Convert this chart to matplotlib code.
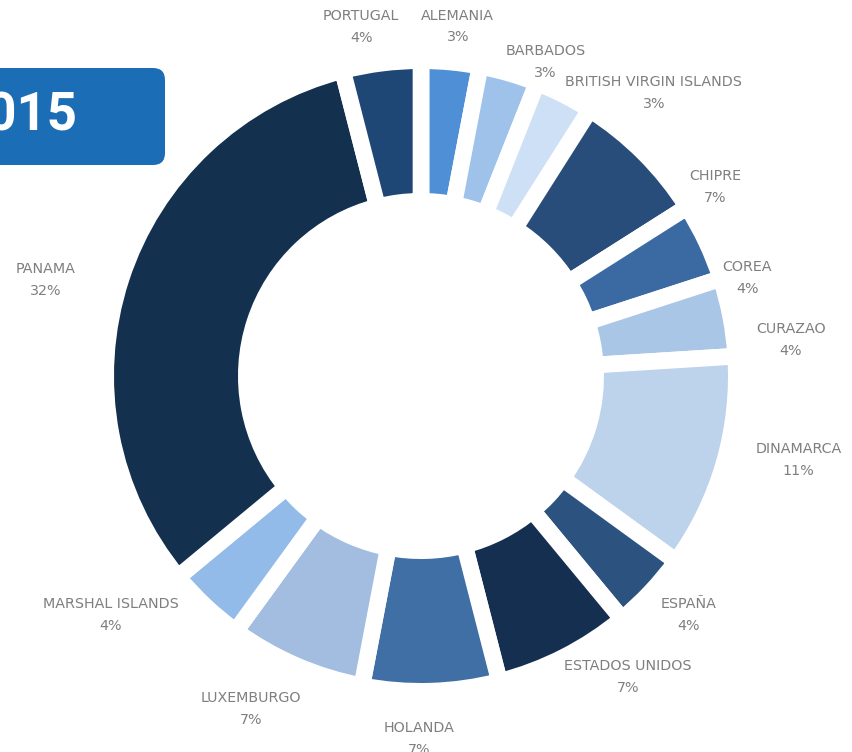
import numpy as np
import matplotlib
matplotlib.use("Agg")
import matplotlib.pyplot as plt
from matplotlib.patches import FancyBboxPatch

# Data (clockwise from the top)
countries = ['ALEMANIA', 'BARBADOS', 'BRITISH VIRGIN ISLANDS', 'CHIPRE', 'COREA',
             'CURAZAO', 'DINAMARCA', 'ESPAÑA', 'ESTADOS UNIDOS', 'HOLANDA',
             'LUXEMBURGO', 'MARSHAL ISLANDS', 'PANAMA', 'PORTUGAL']
shares = [3, 3, 3, 7, 4, 4, 11, 4, 7, 7, 7, 4, 32, 4]
colors = ['#4f8fd6', '#9ec2ea', '#cde0f6', '#284d7a', '#3b6aa3',
          '#a9c6e7', '#bdd3ec', '#2c5280', '#142f50', '#3f6fa5',
          '#a2bde0', '#92bbe9', '#14304f', '#1f4775']
year = '2015'

W, H = 853, 752
R_PX = 307          # visible outer radius in pixels
CX, CY = 421, 376   # centre of the ring in pixels (from top-left)

# hand nudges for the labels, in pixels (right, down)
label_nudge = {
    'ALEMANIA': (1, 5), 'BARBADOS': (18, 28), 'BRITISH VIRGIN ISLANDS': (60, 34),
    'CHIPRE': (25, 63), 'COREA': (-18, 54), 'CURAZAO': (-4, 31),
    'DINAMARCA': (12, -15), 'ESPAÑA': (-10, -5), 'ESTADOS UNIDOS': (34, -16),
    'HOLANDA': (-14, 7), 'LUXEMBURGO': (-19, 6), 'MARSHAL ISLANDS': (-50, -21),
    'PANAMA': (-13, 14), 'PORTUGAL': (-12, 4),
}

fig = plt.figure(figsize=(W / 100, H / 100), dpi=100)
ax = fig.add_axes([0, 0, 1, 1])

gap_pt = 12
half_gap = gap_pt / 72 * 100 / 2 / R_PX
inner = 183 / R_PX

wedges, _ = ax.pie(shares, colors=colors, startangle=90, counterclock=False,
                   radius=1 + half_gap,
                   wedgeprops=dict(width=1 + half_gap - (inner - half_gap),
                                   edgecolor='white', linewidth=gap_pt))

# pie() resets the limits, so set them afterwards (1 unit = R_PX pixels)
ax.set_xlim(-CX / R_PX, (W - CX) / R_PX)
ax.set_ylim(-(H - CY) / R_PX, CY / R_PX)
ax.set_aspect('equal')
ax.axis('off')

px = 1 / R_PX

# Labels outside each wedge, name + percentage
for w, name, val in zip(wedges, countries, shares):
    mid = np.deg2rad((w.theta1 + w.theta2) / 2)
    dx, dy = label_nudge[name]
    x = 1.24 * np.cos(mid) + dx * px
    y = 1.16 * np.sin(mid) - dy * px
    ax.text(x, y, f'{name}\n{val}%', ha='center', va='center',
            fontsize=10.3, color='#7f7f7f', linespacing=1.72,
            family='DejaVu Sans')

# Year badge in the top-left corner
box = FancyBboxPatch(((-40 - CX) * px, (CY - 165) * px), 205 * px, 97 * px,
                     boxstyle=f'round,pad=0,rounding_size={12 * px}',
                     facecolor='#1b6db5', edgecolor='none', zorder=5)
ax.add_patch(box)
ax.text((77 - CX) * px, (CY - 116) * px, year, ha='right', va='center',
        color='white', fontsize=38, fontweight='bold',
        family=['Roboto', 'DejaVu Sans'], zorder=6)

fig.savefig('out.png', dpi=100)
